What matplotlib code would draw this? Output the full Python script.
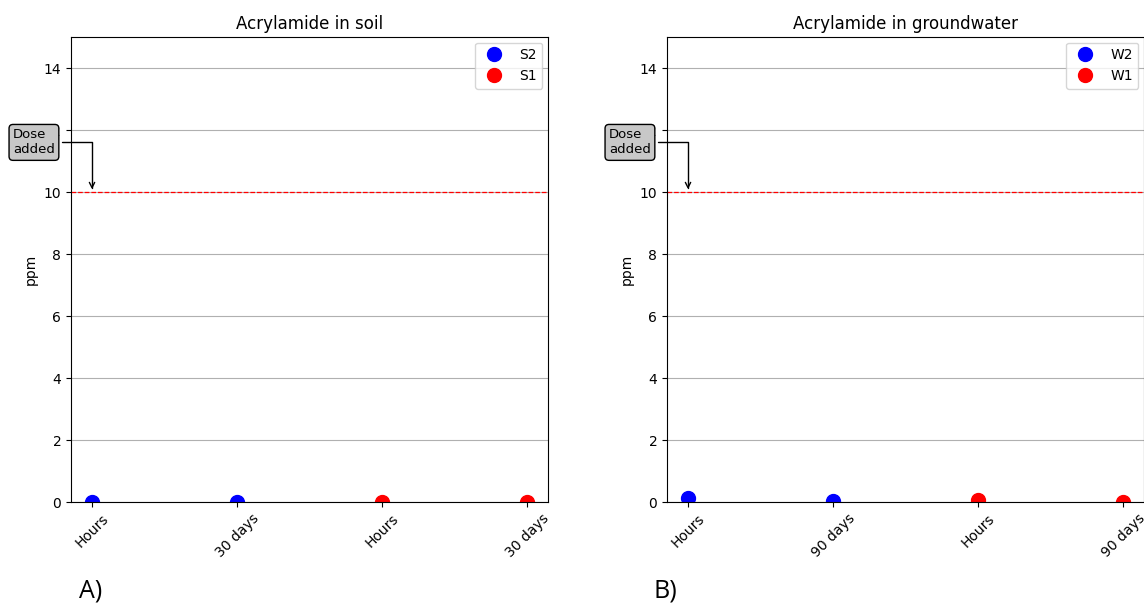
import matplotlib
matplotlib.use("Agg")
import matplotlib.pyplot as plt

# sampling times shown on the x axis
soil_labels = ["Hours", "30 days", "Hours", "30 days"]
water_labels = ["Hours", "90 days", "Hours", "90 days"]

# measured acrylamide (ppm)
s2_ppm = [0.0, 0.0]
s1_ppm = [0.0, 0.0]
w2_ppm = [0.12, 0.02]
w1_ppm = [0.07, 0.01]

dose_ppm = 10

fig = plt.figure(figsize=(11.44, 6.05), dpi=100)

panels = [
    ([71 / 1144, 103 / 605, 477 / 1144, 465 / 605], "Acrylamide in soil",
     soil_labels, ("S2", s2_ppm), ("S1", s1_ppm), "A)", 79 / 1144),
    ([667 / 1144, 103 / 605, 477 / 1144, 465 / 605], "Acrylamide in groundwater",
     water_labels, ("W2", w2_ppm), ("W1", w1_ppm), "B)", 654 / 1144),
]

for rect, title, labels, first, second, tag, tag_x in panels:
    ax = fig.add_axes(rect)
    x = list(range(len(labels)))
    ax.plot(x[:2], first[1], "o", color="blue", markersize=10, label=first[0])
    ax.plot(x[2:], second[1], "o", color="red", markersize=10, label=second[0])
    ax.axhline(dose_ppm, color="red", linestyle="--", linewidth=0.9)
    ax.set_ylim(0, 15)
    ax.set_xlim(-0.145, 3.145)
    ax.set_xticks(x)
    ax.set_xticklabels(labels, rotation=45, fontsize=10)
    ax.set_yticks(range(0, 15, 2))
    ax.tick_params(axis="y", labelsize=10)
    ax.yaxis.grid(True, color="#b0b0b0")
    ax.set_axisbelow(True)
    ax.set_ylabel("ppm", fontsize=10)
    ax.set_title(title, fontsize=12)
    ax.legend(loc="upper right", fontsize=10, borderaxespad=0.4)
    for sp in ax.spines.values():
        sp.set_clip_on(False)
    ax.annotate("Dose\nadded", xy=(0, dose_ppm), xytext=(-0.545, 11.6),
                textcoords="data", ha="left", va="center", fontsize=9.5,
                bbox=dict(boxstyle="round,pad=0.3", fc="#c8c8c8", ec="black"),
                arrowprops=dict(arrowstyle="->", color="black",
                                connectionstyle="angle,angleA=0,angleB=90,rad=0"),
                annotation_clip=False, zorder=5)
    fig.text(tag_x, 1 - 591 / 605, tag, fontsize=18, family="Open Sans",
             ha="left", va="center")

fig.savefig("out.png", dpi=100)
